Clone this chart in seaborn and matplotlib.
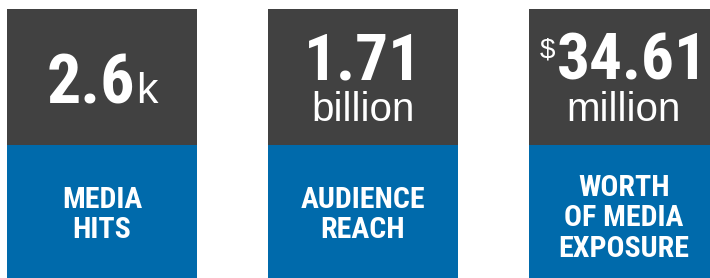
import matplotlib
matplotlib.use("Agg")
import matplotlib.pyplot as plt
import seaborn as sns
import pandas as pd
from matplotlib import font_manager

# ---- data ----
metrics = ["Media hits", "Audience reach", "Media exposure"]
prefixes = ["", "", "$"]
values = ["2.6", "1.71", "34.61"]
units = ["k", "billion", "million"]
labels = ["MEDIA\nHITS", "AUDIENCE\nREACH", "WORTH\nOF MEDIA\nEXPOSURE"]

DARK = "#414141"
BLUE = "#006aab"

names = {f.name for f in font_manager.fontManager.ttflist}
NARROW = "Roboto Condensed" if "Roboto Condensed" in names else "Liberation Sans"
REG = "Liberation Sans"

sns.set_theme(style="white")
W, H = 710, 278
fig = plt.figure(figsize=(W / 100, H / 100), dpi=100)
ax = fig.add_axes([0, 0, 1, 1])

# tile geometry (pixels from bottom)
tile_top, split = 269, 133
df = pd.DataFrame({"metric": metrics,
                   "top": [tile_top] * len(metrics),
                   "bottom": [split] * len(metrics)})
sns.barplot(data=df, x="metric", y="top", color=DARK, saturation=1,
            width=0.728, ax=ax, linewidth=0)
sns.barplot(data=df, x="metric", y="bottom", color=BLUE, saturation=1,
            width=0.728, ax=ax, linewidth=0)
spacing = 261.0
x0 = 102.0
ax.set_xlim(-x0 / spacing, (W - x0) / spacing)
ax.set_ylim(0, H)
ax.axis("off")

# text overlay in pixel coordinates (y from top)
tx = fig.add_axes([0, 0, 1, 1])
tx.set_xlim(0, W)
tx.set_ylim(H, 0)
tx.axis("off")
tx.patch.set_alpha(0)

fig.canvas.draw()
r = fig.canvas.get_renderer()

def width(t):
    return t.get_window_extent(r).width

for i in range(len(metrics)):
    cx = x0 + i * spacing
    if units[i] == "k":
        t1 = tx.text(0, 103, values[i], color="white", fontsize=49, family=NARROW,
                     weight="bold", ha="left", va="baseline")
        t2 = tx.text(0, 103, units[i], color="white", fontsize=31, family=REG,
                     ha="left", va="baseline")
        w1, w2 = width(t1), width(t2)
        gap = 1
        start = cx - (w1 + gap + w2) / 2
        t1.set_x(start)
        t2.set_x(start + w1 + gap)
    else:
        t1 = tx.text(0, 80, values[i], color="white", fontsize=47, family=NARROW,
                     weight="bold", ha="left", va="baseline")
        w1 = width(t1)
        if prefixes[i]:
            tp = tx.text(0, 58, prefixes[i], color="white", fontsize=20, family=REG,
                         ha="left", va="baseline")
            wp = width(tp)
            start = cx - (wp + 1 + w1) / 2
            tp.set_x(start)
            t1.set_x(start + wp + 1)
        else:
            t1.set_x(cx - w1 / 2)
        tx.text(cx, 121, units[i], color="white", fontsize=29, family=REG,
                ha="center", va="baseline")

    lines = labels[i].split("\n")
    n = len(lines)
    first = 208 if n == 2 else 196
    for j, line in enumerate(lines):
        tx.text(cx, first + j * 30.5, line, color="white", fontsize=21.5,
                family=NARROW, weight="bold", ha="center", va="baseline")

fig.savefig("out.png", dpi=100, facecolor="white")
